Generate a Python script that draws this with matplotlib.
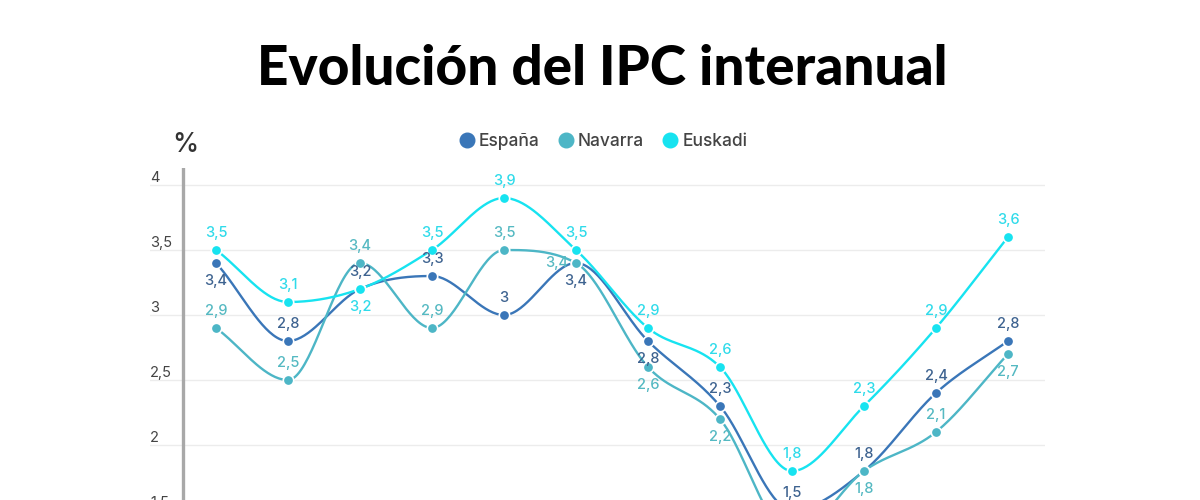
import numpy as np
import matplotlib.pyplot as plt
from matplotlib.lines import Line2D

# data (monthly, 12 points)
months = list(range(12))
espana = [3.4, 2.8, 3.2, 3.3, 3.0, 3.4, 2.8, 2.3, 1.5, 1.8, 2.4, 2.8]
navarra = [2.9, 2.5, 3.4, 2.9, 3.5, 3.4, 2.6, 2.2, 1.3, 1.8, 2.1, 2.7]
euskadi = [3.5, 3.1, 3.2, 3.5, 3.9, 3.5, 2.9, 2.6, 1.8, 2.3, 2.9, 3.6]
series_names = ['España', 'Navarra', 'Euskadi']
y_ticks = [1.5, 2, 2.5, 3, 3.5, 4]

# where each value label sits: a = above, b = below, l = left
espana_pos = ['b', 'a', 'a', 'a', 'a', 'b', 'b', 'a', 'a', 'a', 'a', 'a']
navarra_pos = ['a', 'a', 'a', 'a', 'a', 'l', 'b', 'b', 'b', 'b', 'a', 'b']
euskadi_pos = ['a', 'a', 'b', 'a', 'a', 'a', 'a', 'a', 'a', 'a', 'a', 'a']

line_colors = ['#3a76b8', '#4db6c6', '#17e3f0']
label_colors = ['#3e6390', '#55b9c2', '#2fdbea']

plt.rcParams['font.family'] = ['Inter', 'DejaVu Sans']


def monotone(x, y, n=40):
    # monotone cubic (Fritsch-Carlson) curve through the points
    x = np.asarray(x, float)
    y = np.asarray(y, float)
    h = np.diff(x)
    d = np.diff(y) / h
    m = np.zeros_like(y)
    m[0] = d[0]
    m[-1] = d[-1]
    for i in range(1, len(y) - 1):
        if d[i - 1] * d[i] <= 0:
            m[i] = 0
        else:
            m[i] = (d[i - 1] + d[i]) / 2
    for i in range(len(d)):
        if d[i] == 0:
            m[i] = m[i + 1] = 0
            continue
        a = m[i] / d[i]
        b = m[i + 1] / d[i]
        s = a * a + b * b
        if s > 9:
            t = 3 / np.sqrt(s)
            m[i] = t * a * d[i]
            m[i + 1] = t * b * d[i]
    xs, ys = [], []
    for i in range(len(d)):
        t = np.linspace(0, 1, n)
        h00 = 2 * t**3 - 3 * t**2 + 1
        h10 = t**3 - 2 * t**2 + t
        h01 = -2 * t**3 + 3 * t**2
        h11 = t**3 - t**2
        xs.append(x[i] + t * h[i])
        ys.append(h00 * y[i] + h10 * h[i] * m[i] + h01 * y[i + 1] + h11 * h[i] * m[i + 1])
    return np.concatenate(xs), np.concatenate(ys)


fig = plt.figure(figsize=(12, 5), dpi=100)
fig.patch.set_facecolor('white')

ax = fig.add_axes([0.125, -0.28, 0.7458, 0.944])
ax.set_xlim(-0.9167, 11.514)
ax.set_ylim(0.5, 4.1308)
for s in ax.spines.values():
    s.set_visible(False)
ax.set_xticks([])
ax.set_yticks(y_ticks)
ax.set_yticklabels([f'{v:g}'.replace('.', ',') for v in y_ticks])
ax.tick_params(axis='y', length=0, pad=0, labelsize=10.5, labelcolor='#444444')
for lbl in ax.get_yticklabels():
    lbl.set_horizontalalignment('left')
    lbl.set_verticalalignment('bottom')
ax.grid(axis='y', color='#ececec', linewidth=1)
ax.set_axisbelow(True)
ax.axvline(-0.458, color='#a8a8a8', linewidth=2.4)

all_series = [espana, navarra, euskadi]
all_pos = [espana_pos, navarra_pos, euskadi_pos]
offsets = {'a': (0, 12, 'center', 'center'),
           'b': (0, -13, 'center', 'center'),
           'l': (-14, 0, 'center', 'center')}

for vals, pos, lc, tc in zip(all_series, all_pos, line_colors, label_colors):
    xs, ys = monotone(months, vals)
    ax.plot(xs, ys, color=lc, linewidth=1.7, zorder=3)
    ax.plot(months, vals, 'o', color=lc, markersize=7.5, markeredgecolor='white',
            markeredgewidth=1.2, zorder=4)
    for x, v, p in zip(months, vals, pos):
        dx, dy, ha, va = offsets[p]
        ax.annotate(f'{v:g}'.replace('.', ','), (x, v), xytext=(dx, dy),
                    textcoords='offset points', ha=ha, va=va,
                    fontsize=10.5, fontweight='medium', color=tc, zorder=5)

fig.text(0.1435, 0.71, '%', fontsize=19, fontweight='medium', color='#333333',
         ha='left', va='center')

handles = [Line2D([], [], marker='o', linestyle='', markersize=10.5, color=c)
           for c in line_colors]
fig.legend(handles, series_names, loc='center', bbox_to_anchor=(0.503, 0.716),
           ncol=3, frameon=False, handlelength=0.8, handletextpad=0.3,
           columnspacing=1.1, labelcolor='#444444',
           prop={'size': 12.5, 'weight': 'medium'})

fig.text(0.502, 0.862, 'Evolución del IPC interanual', fontsize=39.5,
         fontweight='black', family=['Lato', 'DejaVu Sans'],
         color='black', ha='center', va='center')

fig.savefig('out.png', dpi=100)
